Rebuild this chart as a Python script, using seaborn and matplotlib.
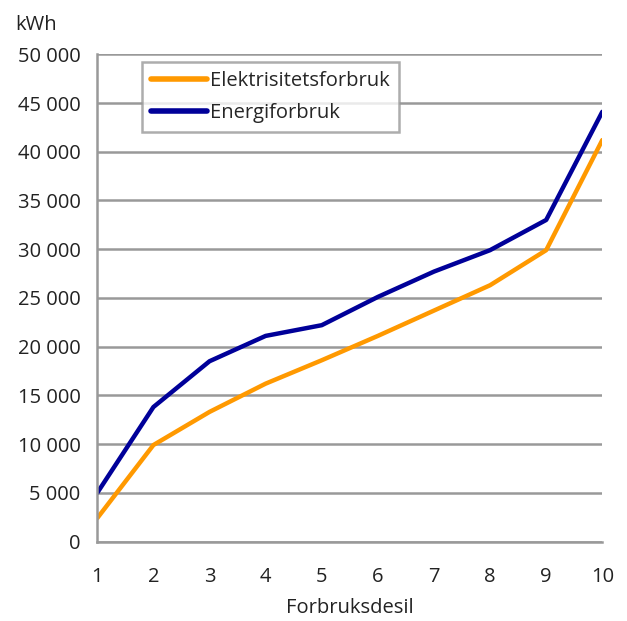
import matplotlib
matplotlib.use("Agg")
import matplotlib.pyplot as plt
import seaborn as sns
import pandas as pd
from matplotlib.ticker import FuncFormatter, MultipleLocator

deciles = [1, 2, 3, 4, 5, 6, 7, 8, 9, 10]
elektrisitet = [2400, 9900, 13300, 16200, 18600, 21100, 23700, 26300, 29900, 41200]
energi = [5000, 13800, 18500, 21100, 22200, 25100, 27700, 29900, 33000, 44100]
series_names = ["Elektrisitetsforbruk", "Energiforbruk"]
colors = ["#FF9900", "#000099"]

df = pd.DataFrame({
    "desil": deciles * 2,
    "kWh": elektrisitet + energi,
    "serie": [series_names[0]] * len(deciles) + [series_names[1]] * len(deciles),
})

sns.set_style("white")
plt.rcParams["font.family"] = ["Open Sans", "DejaVu Sans"]

FS = 14.5
fig = plt.figure(figsize=(6.27, 6.21), dpi=100)
ax = fig.add_axes([97.3 / 627, (621 - 541.5) / 621, (602.3 - 97.3) / 627, (541.5 - 54.3) / 621])

sns.lineplot(data=df, x="desil", y="kWh", hue="serie", palette=colors,
             linewidth=3.2, ax=ax, legend=True)

ax.set_xlim(1, 10)
ax.set_ylim(0, 50000)
ax.set_xticks(deciles)
ax.yaxis.set_major_locator(MultipleLocator(5000))
ax.yaxis.set_major_formatter(FuncFormatter(lambda v, p: f"{int(v):,}".replace(",", " ")))
ax.grid(axis="y", color="#999999", linewidth=1.8)
ax.set_axisbelow(True)
for s in ["top", "right"]:
    ax.spines[s].set_visible(False)
for s in ["left", "bottom"]:
    ax.spines[s].set_color("#999999")
    ax.spines[s].set_linewidth(1.8)
ax.tick_params(axis="both", which="major", length=7, width=1.8, color="#999999",
               labelsize=FS, labelcolor="#222222", direction="out")
ax.tick_params(axis="x", pad=11)
ax.tick_params(axis="y", pad=5)
ax.set_xlabel("Forbruksdesil", fontsize=FS, color="#222222", labelpad=8)
ax.set_ylabel("")
fig.text(15 / 627, 1 - 30 / 621, "kWh", fontsize=FS, color="#222222",
         ha="left", va="baseline")

leg = ax.legend(loc="upper left", bbox_to_anchor=(0.0885, 0.984), frameon=True,
                fontsize=FS, handlelength=2.8, handletextpad=0.15, borderpad=0.45,
                borderaxespad=0, labelspacing=0.6, fancybox=False,
                edgecolor="#999999", title=None)
leg.get_frame().set_linewidth(1.8)
for line in leg.get_lines():
    line.set_linewidth(4)

fig.savefig("out.png", dpi=100, facecolor="white")
